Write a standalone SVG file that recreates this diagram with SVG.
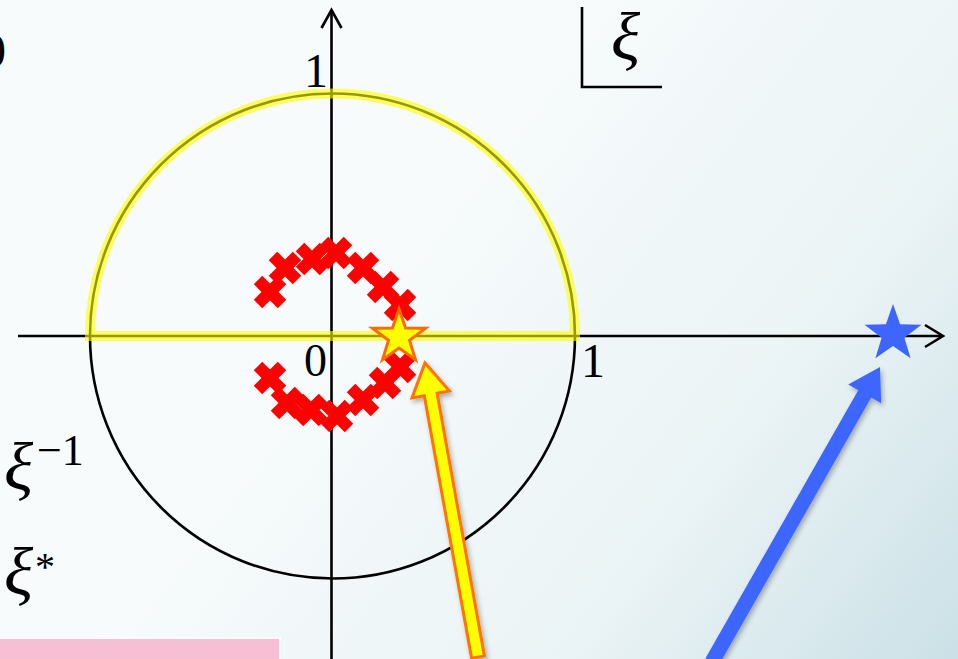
<svg xmlns="http://www.w3.org/2000/svg" xmlns:xlink="http://www.w3.org/1999/xlink" width="958" height="659" viewBox="0 0 958 659">
<defs>
  <linearGradient id="bg" gradientUnits="userSpaceOnUse" x1="380" y1="250" x2="958" y2="700">
    <stop offset="0" stop-color="#f7fbfc"/>
    <stop offset="0.55" stop-color="#eaf3f5"/>
    <stop offset="1" stop-color="#c8dfe5"/>
  </linearGradient>
  <filter id="shadow" x="-30%" y="-10%" width="160%" height="130%">
    <feDropShadow dx="2" dy="3" stdDeviation="2.5" flood-color="#000" flood-opacity="0.3"/>
  </filter>
  <g id="cross">
    <rect x="-17" y="-6" width="34" height="12" transform="rotate(45)"/>
    <rect x="-17" y="-6" width="34" height="12" transform="rotate(-45)"/>
  </g>
</defs>
<style>
  .ax { stroke: #000; stroke-width: 2.6; fill: none; }
  .hl { stroke: #ffff00; stroke-opacity: 0.6; stroke-width: 10; fill: none; }
  .lbl { font-family: "Liberation Serif", "DejaVu Serif", serif; fill: #000; }
  .xi { font-family: "Liberation Serif", "DejaVu Serif", serif; font-style: italic; fill: #000; }
  .cr { fill: #ff0000; }
</style>
<rect width="958" height="659" fill="url(#bg)"/>

<g id="pink-box">
  <rect x="-2" y="638" width="282" height="30" fill="#f6bfd3" stroke="#ffffff" stroke-width="2"/>
</g>

<g id="unit-circle">
  <circle cx="332.5" cy="336" r="242.5" class="ax"/>
</g>

<g id="axes">
  <line x1="18" y1="336" x2="942" y2="336" class="ax"/>
  <polyline points="925,325 943,336 925,347" class="ax"/>
  <line x1="331.5" y1="11" x2="331.5" y2="659" class="ax"/>
  <polyline points="321.5,28 331.5,10 341.5,28" class="ax"/>
</g>

<g id="highlight">
  <path d="M90,336 A242.5,242.5 0 0 1 575,336 Z" class="hl"/>
</g>

<g id="labels">
  <text x="-6" y="67" font-size="48" text-anchor="middle" class="lbl">0</text>
  <text x="316" y="87" font-size="48" text-anchor="middle" class="lbl">1</text>
  <text x="315.5" y="376" font-size="46" text-anchor="middle" class="lbl">0</text>
  <text x="593" y="377" font-size="48" text-anchor="middle" class="lbl">1</text>
</g>

<g id="xi-box">
  <polyline points="582,7 582,87 662,87" class="ax"/>
  <text x="611" y="60" font-size="68" class="xi">ξ</text>
</g>

<g id="xi-inverse">
  <text x="4" y="490" font-size="68" class="xi">ξ</text>
  <text x="37" y="465" font-size="44" class="lbl">−1</text>
</g>

<g id="xi-conj">
  <text x="4" y="595" font-size="68" class="xi">ξ</text>
  <text x="35" y="580" font-size="40" class="lbl">*</text>
</g>

<g id="zeros" class="cr">
  <use xlink:href="#cross" x="270" y="292"/>
  <use xlink:href="#cross" x="285" y="268"/>
  <use xlink:href="#cross" x="312" y="259"/>
  <use xlink:href="#cross" x="336" y="253"/>
  <use xlink:href="#cross" x="363" y="268"/>
  <use xlink:href="#cross" x="383" y="287"/>
  <use xlink:href="#cross" x="400" y="305"/>
  <use xlink:href="#cross" x="270" y="378"/>
  <use xlink:href="#cross" x="287" y="403"/>
  <use xlink:href="#cross" x="311" y="410"/>
  <use xlink:href="#cross" x="337" y="416"/>
  <use xlink:href="#cross" x="363" y="400"/>
  <use xlink:href="#cross" x="385" y="383"/>
  <use xlink:href="#cross" x="400" y="367"/>
</g>

<g id="yellow-star">
  <polygon points="399,309 405.5,328.1 425.6,328.3 409.5,340.4 415.5,359.7 399,348 382.5,359.7 388.5,340.4 372.4,328.3 392.5,328.1" fill="#ffff00" stroke="#ff6a00" stroke-width="3" stroke-linejoin="miter"/>
</g>

<g id="blue-star">
  <polygon points="893,304 900.1,324.3 921.5,324.7 904.4,337.7 910.6,358.3 893,346 875.4,358.3 881.6,337.7 864.5,324.7 885.9,324.3" fill="#3d66ff"/>
</g>

<g id="connectors">
  <polygon filter="url(#shadow)" points="471.6,658.2 424.3,395.7 412,397.9 425,363 449.4,391.1 437.1,393.3 484.4,655.9" fill="#ffff00" stroke="#ff7300" stroke-width="3" stroke-linejoin="miter"/>
  <polygon filter="url(#shadow)" points="705.5,658.3 858.2,390.2 848.2,384.5 880,367 881.2,403.3 871.2,397.6 718.5,665.7" fill="#3d66ff"/>
</g>
</svg>
